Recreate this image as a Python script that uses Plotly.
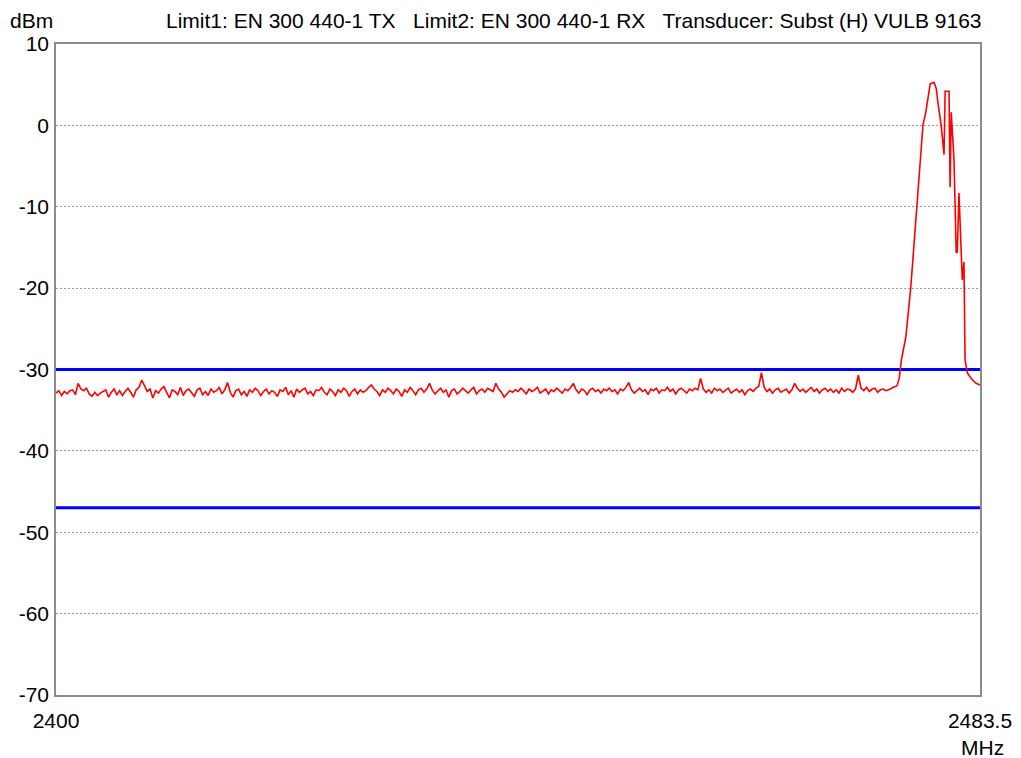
import plotly.graph_objects as go
import numpy as np

# sweep grid of the noise floor part (MHz)
FREQ_START = 2400.0
FREQ_STEP = 0.25

noise_dbm = [
    -32.9, -32.6, -33.2, -32.7, -33.0, -32.6, -32.5, -33.1, -31.7, -32.4, -32.6, -32.3, -33.0, -33.3, -32.8, -33.2, -32.9, -32.7, -32.5, -33.4,
    -32.8, -32.4, -33.1, -32.6, -33.2, -32.7, -32.3, -32.8, -33.4, -32.5, -32.2, -31.3, -32.0, -32.7, -32.4, -33.5, -32.6, -32.9, -32.4, -32.1,
    -32.8, -33.5, -32.5, -32.7, -33.1, -32.2, -33.2, -32.6, -32.4, -32.8, -33.3, -32.5, -32.3, -33.1, -32.7, -33.2, -32.4, -32.8, -32.6, -32.2,
    -33.0, -32.5, -31.6, -32.8, -33.4, -32.6, -32.4, -33.1, -32.7, -33.3, -32.5, -32.8, -32.3, -32.6, -33.2, -32.7, -32.4, -33.0, -32.6, -32.8,
    -33.3, -32.5, -32.7, -32.2, -33.1, -32.6, -33.4, -32.4, -32.8, -32.5, -32.3, -33.0, -32.7, -33.2, -32.5, -32.6, -32.2, -32.8, -33.1, -32.4,
    -32.7, -33.2, -32.5, -32.8, -32.3, -32.6, -33.3, -32.7, -32.4, -33.0, -32.5, -32.8, -32.6, -32.2, -31.9, -32.4, -32.7, -33.2, -32.5, -32.8,
    -32.3, -32.6, -33.0, -32.4, -32.7, -33.3, -32.5, -32.8, -32.2, -32.6, -33.1, -32.5, -32.3, -32.8, -32.4, -31.7, -32.5, -33.0, -32.6, -32.3,
    -32.8, -32.5, -33.4, -32.6, -32.4, -33.0, -32.7, -32.3, -32.6, -32.9, -32.5, -32.2, -33.0, -32.6, -32.4, -32.8, -32.3, -32.5, -32.7, -31.7,
    -32.4, -32.8, -33.4, -33.0, -32.6, -32.8, -32.5, -32.7, -32.3, -32.6, -33.0, -32.4, -32.7, -32.5, -32.2, -32.9, -32.6, -32.4, -33.0, -32.5,
    -32.7, -32.3, -32.6, -32.9, -32.4, -32.6, -32.2, -31.7, -32.5, -32.9, -32.4, -32.6, -33.1, -32.5, -32.3, -32.7, -32.5, -32.9, -32.4, -32.6,
    -32.3, -32.7, -32.5, -33.0, -32.4, -32.6, -32.2, -31.6, -32.5, -32.9, -32.6, -32.3, -32.7, -32.5, -33.1, -32.4, -32.6, -32.3, -32.9, -32.5,
    -32.6, -32.2, -32.7, -32.4, -33.0, -32.5, -32.3, -32.6, -32.9, -32.4, -32.6, -32.3, -32.5, -31.1, -32.4, -32.8, -32.5, -32.9, -32.3, -32.6,
    -32.4, -32.8, -32.5, -32.3, -32.9, -32.6, -32.4, -32.8, -32.5, -33.1, -32.6, -32.4, -32.7, -32.3, -32.1, -30.4, -32.2, -32.7, -32.4, -32.9,
    -32.5, -32.3, -32.8, -32.6, -32.4, -32.9, -32.5, -31.7, -32.3, -32.7, -32.4, -32.8, -32.5, -32.2, -32.7, -32.4, -32.9, -32.5, -32.3, -32.7,
    -32.4, -32.8, -32.5, -32.9, -32.3, -32.7, -32.4, -32.5, -32.8, -32.4, -30.7, -32.3, -32.6, -32.2, -32.7, -32.4, -32.3, -32.8, -32.5, -32.4,
    -32.6, -32.5, -32.3, -32.1, -32.0,
]

# carrier part of the trace
carrier_mhz = [2476.2, 2476.4, 2476.8, 2477.25, 2477.55, 2477.9, 2478.35, 2478.6, 2479.0, 2479.35,
               2479.55, 2479.7, 2480.0, 2480.25, 2480.35, 2480.7, 2480.8, 2480.9, 2481.15, 2481.35,
               2481.45, 2481.6, 2481.8, 2481.9, 2482.05, 2482.15, 2482.35, 2482.7, 2483.15, 2483.5]
carrier_dbm = [-31.1, -28.8, -26.0, -19.8, -14.4, -8.3, 0.1, 1.6, 5.1, 5.3,
               4.5, 2.8, -0.1, -3.6, 4.2, 4.2, -7.6, 1.6, -4.2, -15.6,
               -15.6, -8.3, -17.4, -19.0, -16.8, -28.8, -30.4, -31.1, -31.7, -31.9]

limit1_dbm = -30
limit2_dbm = -47
y_ticks = [10, 0, -10, -20, -30, -40, -50, -60, -70]
x_range = [2400, 2483.5]

freq = list(FREQ_START + FREQ_STEP * np.arange(len(noise_dbm))) + carrier_mhz
level = noise_dbm + carrier_dbm

FONT = "Liberation Sans, Arial, sans-serif"

fig = go.Figure()
for lim in (limit1_dbm, limit2_dbm):
    fig.add_trace(go.Scatter(x=x_range, y=[lim, lim], mode="lines",
                             line=dict(color="#0000ff", width=3), hoverinfo="skip"))
fig.add_trace(go.Scatter(x=freq, y=level, mode="lines",
                         line=dict(color="#ff0000", width=1.6)))

# page body has an 8px margin, so the figure is 8px smaller than the window
fig.update_layout(
    width=1013, height=750,
    margin=dict(l=48, r=41, t=36, b=63),
    plot_bgcolor="white", paper_bgcolor="white",
    showlegend=False,
    font=dict(family=FONT, size=21, color="black"),
)
fig.update_xaxes(range=x_range, tickvals=x_range, ticktext=["2400", "2483.5"],
                 showgrid=False, zeroline=False, ticks="", ticklabelstandoff=6,
                 automargin=False,
                 showline=True, mirror=True, linecolor="#8c8c8c", linewidth=1.5)
fig.update_yaxes(range=[-70, 10], tickvals=y_ticks, ticktext=[str(v) for v in y_ticks],
                 showgrid=True, gridcolor="#999999", griddash="2px,2px", gridwidth=1,
                 zeroline=False, ticks="", ticklabelstandoff=1, automargin=False,
                 showline=True, mirror=True, linecolor="#8c8c8c", linewidth=1.5)

fig.add_annotation(text="dBm", xref="paper", yref="paper", x=0.0, y=1.0,
                   xshift=-25, yshift=24, xanchor="center", yanchor="middle", showarrow=False)
fig.add_annotation(text="Limit1: EN 300 440-1 TX   Limit2: EN 300 440-1 RX   Transducer: Subst (H) VULB 9163",
                   xref="paper", yref="paper", x=1.0, y=1.0, yshift=24, xshift=4,
                   xanchor="right", yanchor="middle", showarrow=False)
fig.add_annotation(text="MHz", xref="paper", yref="paper", x=1.0, y=0.0,
                   yshift=-52, xshift=2, xanchor="center", yanchor="middle", showarrow=False)

fig.write_html("out.html")
